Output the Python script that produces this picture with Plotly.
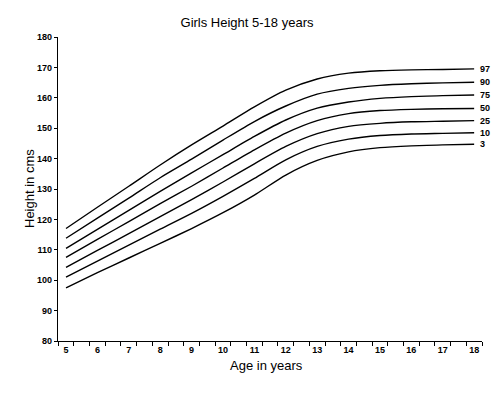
import plotly.graph_objects as go

ages = [5, 6, 7, 8, 9, 10, 11, 12, 13, 14, 15, 16, 17, 18]
centile_labels = ["97", "90", "75", "50", "25", "10", "3"]
p97 = [117.0, 124.0, 130.9, 137.9, 144.5, 150.7, 157.0, 162.5, 166.2, 168.1, 168.9, 169.2, 169.3, 169.5]
p90 = [113.8, 120.4, 127.0, 133.7, 139.8, 146.1, 152.2, 157.3, 161.2, 163.1, 164.1, 164.6, 164.9, 165.1]
p75 = [110.5, 116.7, 123.0, 129.2, 135.3, 141.3, 147.3, 152.7, 156.6, 158.6, 159.8, 160.4, 160.7, 160.9]
p50 = [107.5, 113.4, 119.3, 125.2, 130.9, 136.9, 142.9, 148.4, 152.5, 154.8, 155.8, 156.2, 156.4, 156.5]
p25 = [104.2, 109.8, 115.3, 120.9, 126.5, 132.3, 138.3, 144.0, 148.2, 150.6, 151.6, 152.1, 152.3, 152.5]
p10 = [101.0, 106.3, 111.5, 116.8, 122.0, 127.6, 133.5, 139.6, 144.0, 146.4, 147.6, 148.1, 148.3, 148.5]
p3 = [97.5, 102.5, 107.3, 112.1, 117.0, 122.2, 128.0, 134.6, 139.4, 142.2, 143.6, 144.2, 144.5, 144.7]
series = [p97, p90, p75, p50, p25, p10, p3]
x_ticks = list(range(5, 19))
y_ticks = list(range(80, 190, 10))

# the page adds an 8px body margin, so the figure is laid out 8px up/left
OFF = 8
W, H = 500 - OFF, 393 - 2 * OFF
L, R, T = 58 - OFF, 500 - 482, 37 - OFF
B = H - (341 - OFF)
pw = W - L - R
ph = H - T - B

fig = go.Figure()
for name, vals in zip(centile_labels, series):
    fig.add_trace(go.Scatter(x=ages, y=vals, mode="lines", name=name,
                             line=dict(color="black", width=1.4, shape="spline", smoothing=0.7),
                             showlegend=False, hoverinfo="skip"))

annotations = []
for name, vals in zip(centile_labels, series):
    annotations.append(dict(x=(478 - 58) / pw, y=vals[-1], xref="paper", yref="y", text=name, showarrow=False,
                            xanchor="left", yanchor="middle",
                            font=dict(family="Liberation Sans", size=9, color="black", weight="bold")))
annotations.append(dict(x=(29 - 58) / pw, y=0.5, xref="paper", yref="paper", text="Height in cms",
                        textangle=-90, showarrow=False, xanchor="center", yanchor="middle",
                        font=dict(family="Liberation Sans", size=13, color="black")))
annotations.append(dict(x=(266 - 58) / pw, y=(341 - 365) / ph, xref="paper", yref="paper", text="Age in years",
                        showarrow=False, xanchor="center", yanchor="middle",
                        font=dict(family="Liberation Sans", size=13, color="black")))

fig.update_layout(
    width=W, height=H,
    margin=dict(l=L, r=R, t=T, b=B, pad=0),
    paper_bgcolor="white", plot_bgcolor="white",
    title=dict(text="Girls Height 5-18 years", x=(247 - OFF) / W, xanchor="center", y=1 - (22 - OFF) / H,
               yanchor="middle", yref="container",
               font=dict(family="Liberation Sans", size=13, color="black")),
    annotations=annotations,
    xaxis=dict(range=[4.745, 18.25], tickmode="array", tickvals=x_ticks, ticktext=[str(v) for v in x_ticks],
               ticks="", showgrid=False, zeroline=False, showline=True, linecolor="black", linewidth=1.4,
               tickfont=dict(family="Liberation Sans", size=9, color="black", weight="bold"),
               minor=dict(tick0=5.25, dtick=0.5, ticks="outside", ticklen=4, tickcolor="black", tickwidth=1.2,
                          showgrid=False)),
    yaxis=dict(range=[80, 180], tickmode="array", tickvals=y_ticks, ticks="outside", ticklen=3,
               tickcolor="black", tickwidth=1.2, showgrid=False, zeroline=False, showline=True,
               linecolor="black", linewidth=1.4,
               tickfont=dict(family="Liberation Sans", size=9, color="black", weight="bold")),
)

fig.write_html("out.html")
